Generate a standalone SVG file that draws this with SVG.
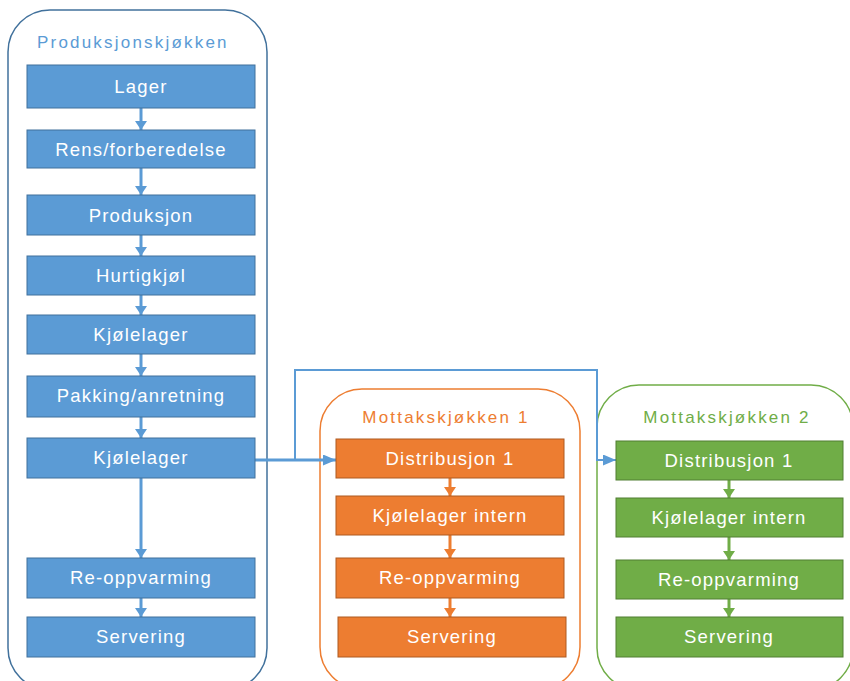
<svg xmlns="http://www.w3.org/2000/svg" width="850" height="681" viewBox="0 0 850 681">
<defs>
<style>
.ctn{fill:#fff;stroke-width:1.5}
.b{fill:#5B9BD5;stroke:#41719C;stroke-width:1}
.o{fill:#ED7D31;stroke:#AE5A21;stroke-width:1}
.g{fill:#70AD47;stroke:#507E32;stroke-width:1}
.t{font-family:"Liberation Sans",Arial,sans-serif;font-size:18.5px;fill:#fff;text-anchor:middle;letter-spacing:1.2px}
.h{font-family:"Liberation Sans",Arial,sans-serif;font-size:17px;letter-spacing:2.2px}
.cb{stroke:#5B9BD5;stroke-width:3;fill:none}
.co{stroke:#ED7D31;stroke-width:3;fill:none}
.cg{stroke:#70AD47;stroke-width:3;fill:none}
</style>
<marker id="ab" viewBox="0 0 10 10" preserveAspectRatio="none" refX="10" refY="5" markerWidth="9" markerHeight="12" markerUnits="userSpaceOnUse" orient="auto"><path d="M0,0 L10,5 L0,10 z" fill="#5B9BD5"/></marker>
<marker id="ao" viewBox="0 0 10 10" preserveAspectRatio="none" refX="10" refY="5" markerWidth="9" markerHeight="12" markerUnits="userSpaceOnUse" orient="auto"><path d="M0,0 L10,5 L0,10 z" fill="#ED7D31"/></marker>
<marker id="ag" viewBox="0 0 10 10" preserveAspectRatio="none" refX="10" refY="5" markerWidth="9" markerHeight="12" markerUnits="userSpaceOnUse" orient="auto"><path d="M0,0 L10,5 L0,10 z" fill="#70AD47"/></marker>
<marker id="abh" viewBox="0 0 10 10" preserveAspectRatio="none" refX="10" refY="5" markerWidth="13" markerHeight="11" markerUnits="userSpaceOnUse" orient="auto"><path d="M0,0 L10,5 L0,10 z" fill="#5B9BD5"/></marker>
</defs>
<rect width="850" height="681" fill="#fff"/>

<g id="produksjonskjokken">
<rect class="ctn" x="8" y="10" width="259" height="680" rx="42" stroke="#41719C"/>
<text class="h" x="37" y="48" fill="#5B9BD5">Produksjonskjøkken</text>
</g>
<g id="mottak1">
<rect class="ctn" x="320" y="389" width="260" height="300" rx="42" stroke="#ED7D31"/>
<text class="h" x="446" y="423" fill="#ED7D31" text-anchor="middle">Mottakskjøkken 1</text>
</g>
<g id="mottak2">
<rect class="ctn" x="597" y="385" width="256" height="305" rx="42" stroke="#70AD47"/>
<text class="h" x="727" y="423" fill="#70AD47" text-anchor="middle">Mottakskjøkken 2</text>
</g>

<g id="connectors">
<line class="cb" x1="141" y1="108" x2="141" y2="130" marker-end="url(#ab)"/>
<line class="cb" x1="141" y1="168" x2="141" y2="195" marker-end="url(#ab)"/>
<line class="cb" x1="141" y1="235" x2="141" y2="256" marker-end="url(#ab)"/>
<line class="cb" x1="141" y1="295" x2="141" y2="315" marker-end="url(#ab)"/>
<line class="cb" x1="141" y1="354" x2="141" y2="376" marker-end="url(#ab)"/>
<line class="cb" x1="141" y1="417" x2="141" y2="438" marker-end="url(#ab)"/>
<line class="cb" x1="141" y1="478" x2="141" y2="558" marker-end="url(#ab)"/>
<line class="cb" x1="141" y1="598" x2="141" y2="617" marker-end="url(#ab)"/>
<line class="cb" x1="255" y1="460" x2="336" y2="460" marker-end="url(#abh)"/>
<path d="M295,460 V370 H597 V460 H616" stroke="#5B9BD5" stroke-width="2" fill="none" marker-end="url(#abh)"/>
<line class="co" x1="450" y1="478" x2="450" y2="496" marker-end="url(#ao)"/>
<line class="co" x1="450" y1="535" x2="450" y2="558" marker-end="url(#ao)"/>
<line class="co" x1="450" y1="598" x2="450" y2="617" marker-end="url(#ao)"/>
<line class="cg" x1="729" y1="480" x2="729" y2="498" marker-end="url(#ag)"/>
<line class="cg" x1="729" y1="537" x2="729" y2="560" marker-end="url(#ag)"/>
<line class="cg" x1="729" y1="599" x2="729" y2="617" marker-end="url(#ag)"/>
</g>

<g id="p-lager"><rect class="b" x="27" y="65" width="228" height="43"/><text class="t" x="141" y="93">Lager</text></g>
<g id="p-rens"><rect class="b" x="27" y="130" width="228" height="38"/><text class="t" x="141" y="156">Rens/forberedelse</text></g>
<g id="p-produksjon"><rect class="b" x="27" y="195" width="228" height="40"/><text class="t" x="141" y="222">Produksjon</text></g>
<g id="p-hurtigkjol"><rect class="b" x="27" y="256" width="228" height="39"/><text class="t" x="141" y="282">Hurtigkjøl</text></g>
<g id="p-kjolelager1"><rect class="b" x="27" y="315" width="228" height="39"/><text class="t" x="141" y="341">Kjølelager</text></g>
<g id="p-pakking"><rect class="b" x="27" y="376" width="228" height="41"/><text class="t" x="141" y="402">Pakking/anretning</text></g>
<g id="p-kjolelager2"><rect class="b" x="27" y="438" width="228" height="40"/><text class="t" x="141" y="464">Kjølelager</text></g>
<g id="p-reopp"><rect class="b" x="27" y="558" width="228" height="40"/><text class="t" x="141" y="584">Re-oppvarming</text></g>
<g id="p-servering"><rect class="b" x="27" y="617" width="228" height="40"/><text class="t" x="141" y="643">Servering</text></g>

<g id="m1-dist"><rect class="o" x="336" y="439" width="228" height="39"/><text class="t" x="450" y="465">Distribusjon 1</text></g>
<g id="m1-kjol"><rect class="o" x="336" y="496" width="228" height="39"/><text class="t" x="450" y="522">Kjølelager intern</text></g>
<g id="m1-reopp"><rect class="o" x="336" y="558" width="228" height="40"/><text class="t" x="450" y="584">Re-oppvarming</text></g>
<g id="m1-serv"><rect class="o" x="338" y="617" width="228" height="40"/><text class="t" x="452" y="643">Servering</text></g>

<g id="m2-dist"><rect class="g" x="616" y="441" width="227" height="39"/><text class="t" x="729" y="467">Distribusjon 1</text></g>
<g id="m2-kjol"><rect class="g" x="616" y="498" width="227" height="39"/><text class="t" x="729" y="524">Kjølelager intern</text></g>
<g id="m2-reopp"><rect class="g" x="616" y="560" width="227" height="39"/><text class="t" x="729" y="586">Re-oppvarming</text></g>
<g id="m2-serv"><rect class="g" x="616" y="617" width="227" height="40"/><text class="t" x="729" y="643">Servering</text></g>
</svg>
